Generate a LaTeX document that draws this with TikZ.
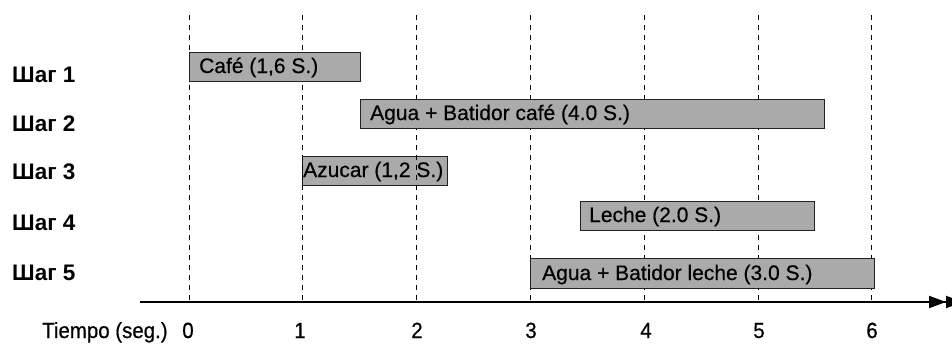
\documentclass[tikz,border=0pt]{standalone}
\usepackage{fontspec}
\setmainfont{Liberation Sans}
\newfontfamily\refsans[FakeBold=0.5]{Liberation Sans}
\newfontfamily\refsanstall[FakeBold=0.5,FakeStretch=0.93]{Liberation Sans}
\usetikzlibrary{arrows.meta}
\definecolor{barfill}{HTML}{AAAAAA}
\definecolor{baredge}{HTML}{222222}
\begin{document}
\begin{tikzpicture}[x=1pt,y=-1pt,
  bar/.style={draw=baredge, line width=1.1pt, fill=barfill, minimum height=29pt, inner sep=0pt, anchor=north west},
  bartext/.style={inner sep=0pt, anchor=base west, font=\refsans\fontsize{21}{24}\selectfont},
  steplabel/.style={inner sep=0pt, anchor=base west, font=\fontsize{22.5}{26}\selectfont\bfseries},
  ticklabel/.style={inner sep=0pt, anchor=base, font=\refsanstall\fontsize{22}{24}\selectfont},
  gridline/.style={line width=0.9pt, dash pattern=on 5pt off 5pt},
  axis/.style={line width=2pt, -{Triangle[length=17pt,width=12pt,sep=0pt]Triangle[length=17pt,width=12pt,sep=0pt]}}]
\useasboundingbox (0,0) rectangle (952,343);
\fill[white] (0,0) rectangle (952,343);

% bar 3 drawn beneath the grid lines (a grid line shows through it)
\node[bar, minimum width=145pt] (b3) at (302,156) {};

% grid lines
\foreach \x/\n in {189/0,302/1,416/2,530/3,644/4,758/5,871/6}{
  \coordinate (gt\n) at (\x,15);
  \coordinate (gb\n) at (\x,302);
  \draw[gridline] (gt\n) -- (gb\n);
}

% bars
\node[bar, minimum width=171pt] (b1) at (189,52) {};
\node[bar, minimum width=464pt] (b2) at (360,99) {};
\node[bar, minimum width=234pt] (b4) at (580,201) {};
\node[bar, minimum width=344pt, minimum height=30pt] (b5) at (530,258) {};

\node[bartext] (t1) at (199,73) {Café (1,6 S.)};
\node[bartext] (t2) at (370,120) {Agua + Batidor café (4.0 S.)};
\node[bartext] (t3) at (303,177) {Azucar (1,2 S.)};
\node[bartext] (t4) at (589,222) {Leche (2.0 S.)};
\node[bartext] (t5) at (542,280) {Agua + Batidor leche (3.0 S.)};

% step labels
\node[steplabel] (s1) at (12,82) {Шаг 1};
\node[steplabel] (s2) at (12,131.5) {Шаг 2};
\node[steplabel] (s3) at (12,179.5) {Шаг 3};
\node[steplabel] (s4) at (12,230.5) {Шаг 4};
\node[steplabel] (s5) at (12,280.5) {Шаг 5};

% axis
\coordinate (ax0) at (140,302);
\coordinate (ax1) at (963,302);
\draw[axis] (ax0) -- (ax1);

% tick labels
\node[ticklabel, anchor=base west] (tl) at (42,338) {Tiempo (seg.)};
\foreach \x/\n in {188/0,300/1,417/2,531/3,646/4,759/5,872/6}{
  \node[ticklabel] (tk\n) at (\x,338) {\n};
}
\end{tikzpicture}
\end{document}
